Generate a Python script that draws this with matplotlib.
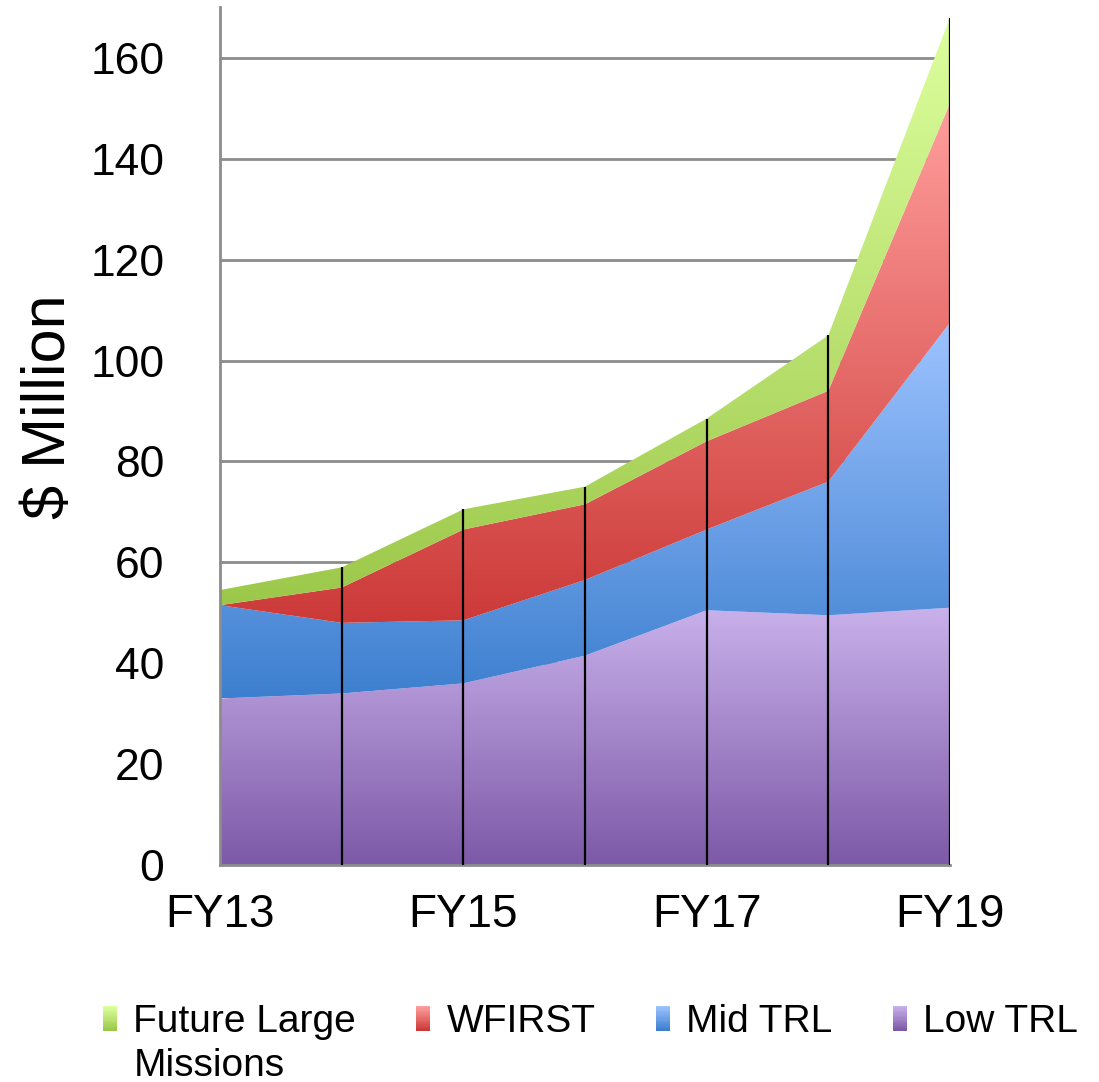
import numpy as np
import matplotlib
matplotlib.use('Agg')
import matplotlib.pyplot as plt
from matplotlib.colors import LinearSegmentedColormap
from matplotlib.patches import Polygon, Patch, Rectangle
from matplotlib.legend_handler import HandlerBase

plt.rcParams['font.family'] = ['Liberation Sans', 'DejaVu Sans']

# budget by fiscal year, $ million
years = ['FY13', 'FY14', 'FY15', 'FY16', 'FY17', 'FY18', 'FY19']
low_trl = [33, 34, 36, 41.5, 50.5, 49.5, 51]
mid_trl = [18.5, 14, 12.5, 15, 16, 26.5, 56.5]
wfirst = [0, 7, 18, 15, 17.5, 18, 43.5]
future_large = [3, 4, 4, 3.5, 4.5, 11, 17]

series = [low_trl, mid_trl, wfirst, future_large]
names = ['Low TRL', 'Mid TRL', 'WFIRST', 'Future Large']
# (bottom colour, top colour) of each gradient
grads = [('#7d59a7', '#c9b1eb'),
         ('#3d7fcf', '#9dc3ff'),
         ('#cc3a38', '#ff9e9c'),
         ('#9cc84a', '#ddff9e')]


class GradHandler(HandlerBase):
    # legend key drawn as a small vertical gradient
    def __init__(self, c0, c1):
        super().__init__()
        self.cmap = LinearSegmentedColormap.from_list('k', [c0, c1])

    def create_artists(self, legend, orig_handle, xdescent, ydescent,
                       width, height, fontsize, trans):
        n = 20
        arts = []
        for i in range(n):
            r = Rectangle((-xdescent, -ydescent + height * i / n), width,
                          height / n + 0.3, facecolor=self.cmap(i / (n - 1)),
                          edgecolor='none', transform=trans)
            arts.append(r)
        return arts


fig = plt.figure(figsize=(10.99, 10.82), dpi=100)
ax = fig.add_axes([0.2002, 0.2006, 0.6642, 0.7925])

x = np.arange(len(years))
lower = np.zeros(len(years))
for vals, (c0, c1) in zip(series, grads):
    upper = lower + np.array(vals)
    verts = np.concatenate([np.column_stack([x, upper]),
                            np.column_stack([x[::-1], lower[::-1]])])
    poly = Polygon(verts, closed=True, facecolor='none', edgecolor='none')
    ax.add_patch(poly)
    cmap = LinearSegmentedColormap.from_list('g', [c0, c1])
    grad = np.linspace(0, 1, 256).reshape(-1, 1)
    im = ax.imshow(grad, cmap=cmap, origin='lower', aspect='auto',
                   extent=[x[0], x[-1], lower.min(), upper.max()],
                   zorder=1, interpolation='bilinear')
    im.set_clip_path(poly)
    lower = upper

# drop lines at each year
ax.vlines(x[1:], 0, lower[1:], color='black', lw=1.6, zorder=3)

ax.set_xlim(0, 6)
ax.set_ylim(0, 170)
ax.set_yticks(np.arange(0, 161, 20))
ax.set_xticks([0, 2, 4, 6], [years[0], years[2], years[4], years[6]])
ax.tick_params(axis='y', length=0, pad=40, labelsize=32)
ax.tick_params(axis='x', length=0, pad=20, labelsize=33)
ax.grid(axis='y', color='#8c8c8c', lw=2)
ax.set_axisbelow(True)
for s in ['top', 'right']:
    ax.spines[s].set_visible(False)
for s in ['left', 'bottom']:
    ax.spines[s].set_color('#8c8c8c')
    ax.spines[s].set_linewidth(2)

ax.set_ylabel('\\$ Million', fontsize=44)
ax.yaxis.set_label_coords(-0.195, 0.535)

order = [3, 2, 1, 0]
handles = [Patch(facecolor=grads[i][0]) for i in order]
hmap = {h: GradHandler(*grads[i]) for h, i in zip(handles, order)}
leg = fig.legend(handles, [names[i] for i in order], loc='upper left', ncol=4,
                 bbox_to_anchor=(103 / 1099, 1 - 1004 / 1082),
                 frameon=False, borderpad=0, borderaxespad=0,
                 handlelength=0.36, handleheight=0.6, handletextpad=0.42,
                 columnspacing=1.55, handler_map=hmap,
                 prop={'size': 28})

fig.canvas.draw()
bb = leg.texts[0].get_window_extent()
fig.text(bb.x0 / fig.bbox.width, 1 - 1076 / 1082, 'Missions',
         fontsize=28, va='baseline', ha='left')

fig.savefig('out.png', dpi=100)
